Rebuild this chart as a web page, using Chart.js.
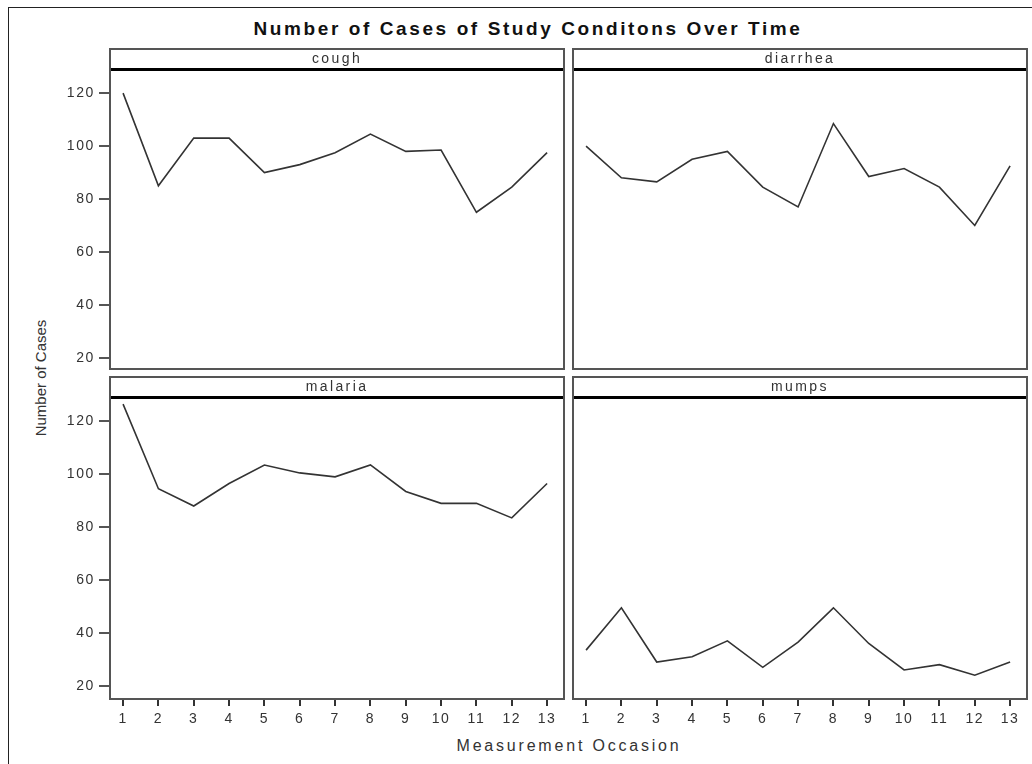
<!DOCTYPE html>
<html>
<head>
<meta charset="utf-8">
<script src="https://cdn.jsdelivr.net/npm/chart.js@4"></script>
<style>
  body { margin: 0; background: #fff; font-family: "Liberation Sans", Arial, sans-serif; }
  #page { position: relative; width: 1032px; height: 764px; overflow: hidden; }
  .frame { position: absolute; left: 8px; top: 7px; width: 1100px; height: 800px; border-top: 1px solid #222; border-left: 1px solid #222; }
  .box { position: absolute; }
  .panel { position: absolute; box-sizing: border-box; border: 2px solid #555; pointer-events: none; }
  .strip { position: absolute; left: 0; right: 0; top: 0; height: 21px; box-sizing: border-box; border-bottom: 3px solid #000; text-align: center; font-size: 14px; line-height: 17px; color: #333; letter-spacing: 2.4px; }
  .title { position: absolute; left: 0; width: 1056px; top: 18px; text-align: center; font-weight: bold; font-size: 19px; letter-spacing: 2.6px; color: #111; }
  .xlab { position: absolute; left: 0; width: 1138px; top: 737px; text-align: center; font-size: 16px; letter-spacing: 2.8px; color: #333; }
  .ylab { position: absolute; left: 40px; top: 378px; transform: translate(-50%, -50%) rotate(-90deg); white-space: nowrap; font-family: "Liberation Sans Narrow", "Liberation Sans", sans-serif; font-size: 15px; color: #333; }
</style>
</head>
<body>
<div id="page">
  <div class="frame"></div>
  <div class="title">Number of Cases of Study Conditons Over Time</div>

  <div class="box" style="left:50px;top:69px;width:513px;height:299px"><canvas id="c1"></canvas></div>
  <div class="box" style="left:573px;top:69px;width:453px;height:299px"><canvas id="c2"></canvas></div>
  <div class="box" style="left:50px;top:397px;width:513px;height:333px"><canvas id="c3"></canvas></div>
  <div class="box" style="left:573px;top:397px;width:453px;height:333px"><canvas id="c4"></canvas></div>

  <div class="panel" style="left:109px;top:48px;width:456px;height:322px"><div class="strip">cough</div></div>
  <div class="panel" style="left:572px;top:48px;width:456px;height:322px"><div class="strip">diarrhea</div></div>
  <div class="panel" style="left:109px;top:376px;width:456px;height:324px"><div class="strip">malaria</div></div>
  <div class="panel" style="left:572px;top:376px;width:456px;height:324px"><div class="strip">mumps</div></div>

  <div class="ylab">Number of Cases</div>
  <div class="xlab">Measurement Occasion</div>
</div>
<script>
// measurement occasions and cases per condition
const occasions = [1, 2, 3, 4, 5, 6, 7, 8, 9, 10, 11, 12, 13];
const cough    = [120, 85, 103, 103, 90, 93, 97.5, 104.5, 98, 98.5, 75, 84.5, 97.5];
const diarrhea = [100, 88, 86.5, 95, 98, 84.5, 77, 108.5, 88.5, 91.5, 84.5, 70, 92.5];
const malaria  = [126.5, 94.5, 88, 96.5, 103.5, 100.5, 99, 103.5, 93.5, 89, 89, 83.5, 96.5];
const mumps    = [33.5, 49.5, 29, 31, 37, 27, 36.5, 49.5, 36, 26, 28, 24, 29];
const yTicks = [20, 40, 60, 80, 100, 120];

// kill the label padding chart.js adds so the plot fills the box
function noPad(s) {
  s.paddingTop = 0; s.paddingBottom = 0; s.paddingLeft = 0; s.paddingRight = 0;
}

// spaced-out tick text like the original
const spacing = {
  id: 'spacing',
  beforeLayout(chart) { chart.ctx.letterSpacing = '1.6px'; },
  beforeDraw(chart) { chart.ctx.letterSpacing = '1.6px'; }
};

function makePanel(id, values, showY, showX, yMin, yMax) {
  const pts = occasions.map((o, i) => ({ x: o, y: values[i] }));
  const ctx = document.getElementById(id).getContext('2d');
  return new Chart(ctx, {
    type: 'line',
    data: {
      datasets: [{
        data: pts,
        borderColor: '#333',
        borderWidth: 1.6,
        pointRadius: 0,
        tension: 0,
        fill: false
      }]
    },
    plugins: [spacing],
    options: {
      responsive: true,
      maintainAspectRatio: false,
      animation: false,
      layout: { padding: 0 },
      plugins: { legend: { display: false }, tooltip: { enabled: false } },
      scales: {
        x: {
          type: 'linear',
          min: 0.63,
          max: 13.45,
          display: showX,
          afterBuildTicks: (s) => { s.ticks = occasions.map(v => ({ value: v })); },
          afterFit: (s) => { s.height = showX ? 32 : 0; noPad(s); },
          border: { display: false },
          grid: { drawOnChartArea: false, drawTicks: true, tickLength: 8, color: '#333', lineWidth: 2 },
          ticks: { color: '#333', padding: 5, maxRotation: 0, font: { family: 'Liberation Sans', size: 14 } }
        },
        y: {
          min: yMin,
          max: yMax,
          display: showY,
          afterBuildTicks: (s) => { s.ticks = yTicks.map(v => ({ value: v })); },
          afterFit: (s) => { s.width = showY ? 60 : 0; noPad(s); },
          border: { display: false },
          grid: { drawOnChartArea: false, drawTicks: true, tickLength: 11, color: '#555', lineWidth: 2 },
          ticks: { color: '#333', padding: 4, font: { family: 'Liberation Sans', size: 14 } }
        }
      }
    }
  });
}

makePanel('c1', cough, true, false, 16.2, 129.1);
makePanel('c2', diarrhea, false, false, 16.2, 129.1);
makePanel('c3', malaria, true, true, 15.4, 129.2);
makePanel('c4', mumps, false, true, 15.4, 129.2);
</script>
</body>
</html>
